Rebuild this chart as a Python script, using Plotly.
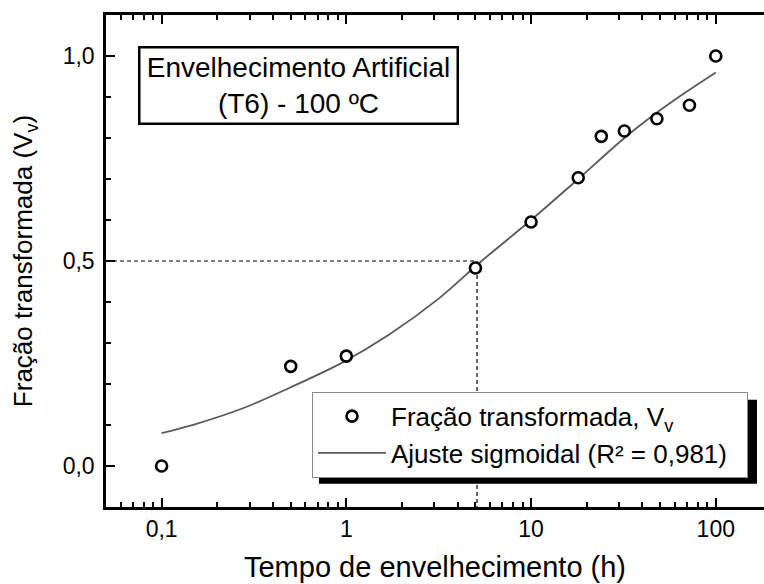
import math
import plotly.graph_objects as go

# Aging time (h) and measured transformed fraction Vv
tempo_h = [0.1, 0.5, 1, 5, 10, 18, 24, 32, 48, 72, 100]
fracao_vv = [0.0, 0.243, 0.268, 0.483, 0.595, 0.703, 0.804, 0.817, 0.847, 0.880, 1.0]

# Sigmoidal fit, sampled along the time axis
ajuste_t = [0.1, 0.15, 0.28, 0.5, 0.94, 1.7, 3.2, 5.3, 10, 18, 32, 48, 70, 100]
ajuste_v = [0.080, 0.101, 0.142, 0.192, 0.251, 0.320, 0.410, 0.497,
            0.600, 0.700, 0.800, 0.862, 0.914, 0.960]

# Half-transformation point (Vv = 0,5)
t_meio = 5.1
v_meio = 0.5

# Axis limits and tick labels
x_lim = [0.05, 182.4]
y_lim = [-0.1, 1.1]
x_ticks = [0.1, 1, 10, 100]
x_ticktext = ["0,1", "1", "10", "100"]
y_ticks = [0.0, 0.5, 1.0]
y_ticktext = ["0,0", "0,5", "1,0"]
x_minor = [m * 10 ** e for e in range(-2, 3) for m in range(2, 10)]

FONT = "Liberation Sans, Arial, sans-serif"
PAD = "\u00a0\u00a0"

fig = go.Figure()

# dashed guides to the half-transformation time
fig.add_trace(go.Scatter(
    x=[x_lim[0], t_meio], y=[v_meio, v_meio], mode="lines",
    line=dict(color="black", width=1.2, dash="4px,3px"),
    showlegend=False, hoverinfo="skip", cliponaxis=True))
fig.add_trace(go.Scatter(
    x=[t_meio, t_meio], y=[v_meio, y_lim[0]], mode="lines",
    line=dict(color="black", width=1.2, dash="4px,3px"),
    showlegend=False, hoverinfo="skip", cliponaxis=True))

# fit curve
fig.add_trace(go.Scatter(
    x=ajuste_t, y=ajuste_v, mode="lines",
    line=dict(color="#5a5a5a", width=1.8, shape="spline", smoothing=0.8),
    name="Ajuste sigmoidal (R² = 0,981)" + PAD, legendrank=2))

# measured points
fig.add_trace(go.Scatter(
    x=tempo_h, y=fracao_vv, mode="markers",
    marker=dict(symbol="circle", size=11, color="white",
                line=dict(color="black", width=2.6)),
    name="Fração transformada, V<sub>v</sub>", legendrank=1))

L, R, T, B = 106, 0, 15, 77
W, H = 764, 584
pw, ph = W - L - R, H - T - B


def px_x(p):
    return (p - L) / pw


def px_y(p):
    return (H - B - p) / ph


axis_common = dict(
    showline=True, linecolor="black", linewidth=2.5,
    ticks="inside", ticklen=9, tickwidth=1.8, tickcolor="black",
    showgrid=False, zeroline=False,
    tickfont=dict(family=FONT, size=23, color="black"),
)

fig.update_xaxes(
    type="log", range=[math.log10(x_lim[0]), math.log10(x_lim[1])],
    tickmode="array", tickvals=x_ticks, ticktext=x_ticktext,
    mirror="ticks",
    minor=dict(tickmode="array", tickvals=x_minor, ticks="inside",
               ticklen=5, tickwidth=1.5, tickcolor="black"),
    title=dict(text="Tempo de envelhecimento (h)",
               font=dict(family=FONT, size=29, color="black"), standoff=16),
    ticklabelstandoff=0,
    **axis_common)

fig.update_yaxes(
    range=y_lim, tickmode="array", tickvals=y_ticks, ticktext=y_ticktext,
    minor=dict(dtick=0.1, tick0=0, ticks="inside",
               ticklen=5, tickwidth=1.5, tickcolor="black"),
    title=dict(text="Fração transformada (V<sub>v</sub>)",
               font=dict(family=FONT, size=26, color="black"), standoff=23),
    ticklabelstandoff=4,
    **axis_common)

# legend with drop shadow
leg_x0, leg_y0 = 312, 391.7
leg_w, leg_h = 438, 84
shadow_dx, shadow_dy = 7, 8
fig.add_shape(type="rect", xref="paper", yref="paper", layer="above",
              x0=px_x(leg_x0 + shadow_dx), x1=px_x(leg_x0 + leg_w + shadow_dx),
              y0=px_y(leg_y0 + leg_h + shadow_dy), y1=px_y(leg_y0 + shadow_dy),
              fillcolor="black", line=dict(width=0))

fig.update_layout(
    width=W, height=H,
    margin=dict(l=L, r=R, t=T, b=B),
    paper_bgcolor="white", plot_bgcolor="white",
    font=dict(family=FONT, color="black"),
    showlegend=True,
    legend=dict(
        x=px_x(leg_x0), y=px_y(leg_y0), xanchor="left", yanchor="top",
        bgcolor="white", bordercolor="#8a8a8a", borderwidth=1,
        font=dict(family=FONT, size=26, color="black"),
        tracegroupgap=6, itemwidth=68,
    ),
    annotations=[dict(
        text="Envelhecimento Artificial<br>(T6) - 100 ºC",
        xref="paper", yref="paper",
        x=px_x(298), y=px_y(86), xanchor="center", yanchor="middle",
        showarrow=False, align="center",
        font=dict(family=FONT, size=28, color="black"),
        bgcolor="white", bordercolor="black", borderwidth=2.5,
        borderpad=2, width=312, height=70,
    )],
)

fig.write_html("out.html")
